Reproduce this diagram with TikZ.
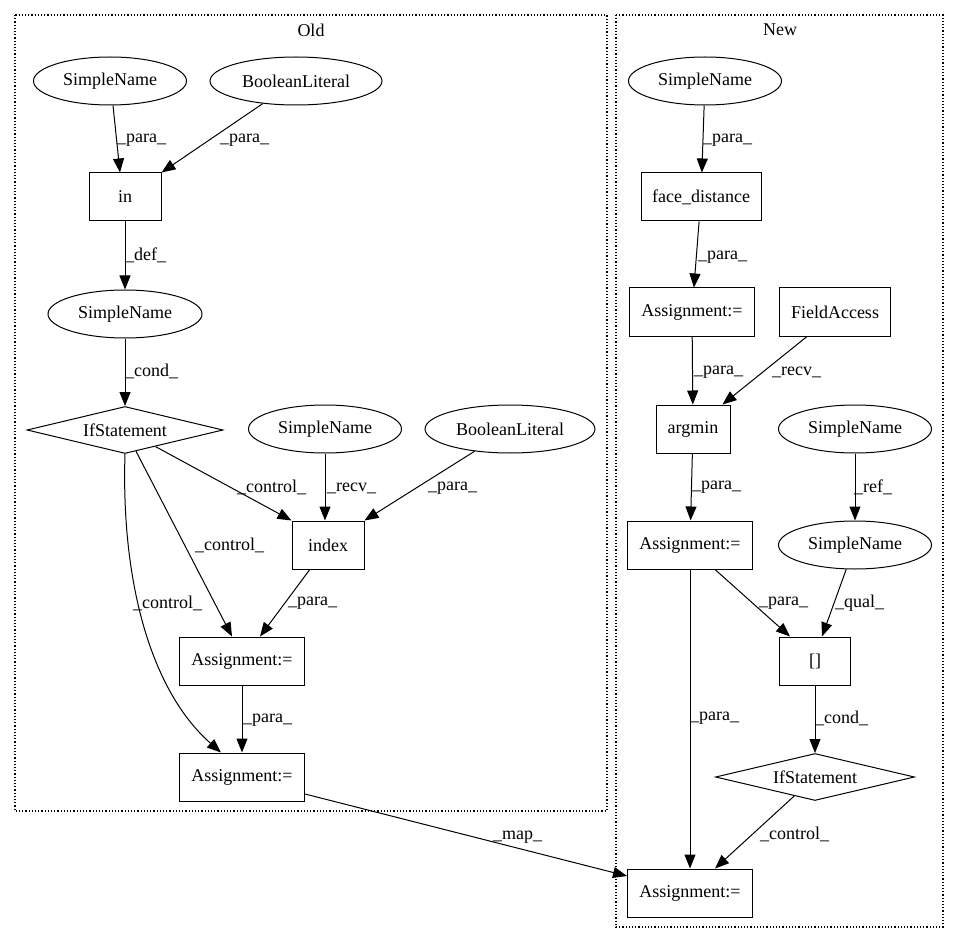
\documentclass[tikz,border=0pt]{standalone}
\usepackage{fontspec}
\setmainfont{Liberation Serif}
\usetikzlibrary{arrows.meta,shapes.geometric}
\begin{document}
\begin{tikzpicture}[x=1pt,y=-1pt,
  every node/.style={font=\fontsize{18}{20}\selectfont},
  ell/.style={draw,ellipse,minimum height=48pt,inner sep=0pt,line width=1pt},
  box/.style={draw,rectangle,minimum height=48pt,inner sep=0pt,line width=1pt},
  dia/.style={draw,diamond,aspect=4.2,minimum height=47pt,inner sep=0pt,line width=1pt},
  lab/.style={inner sep=0pt,anchor=west},
  arr/.style={line width=1pt,-{Triangle[length=14pt,width=11pt]}},
  clus/.style={draw,dotted,line width=1.2pt}]
\useasboundingbox (0,0) rectangle (959,944);
\draw[clus] (15,15) rectangle (607,811);
\node at (311,30) {Old};
\draw[clus] (616,15) rectangle (943,927);
\node at (780,30) {New};
% Old
\node[ell,minimum width=153pt] (o1) at (110,81) {SimpleName};
\node[ell,minimum width=172pt] (o2) at (296,81) {BooleanLiteral};
\node[box,minimum width=72pt] (oin) at (125,197) {in};
\node[ell,minimum width=154pt] (o3) at (125,314) {SimpleName};
\node[dia,minimum width=196pt] (oif) at (125,430) {IfStatement};
\node[ell,minimum width=153pt] (o4) at (325,429) {SimpleName};
\node[ell,minimum width=170pt] (o5) at (510,429) {BooleanLiteral};
\node[box,minimum width=72pt] (oidx) at (328,545) {index};
\node[box,minimum width=125pt] (oa1) at (242,661) {Assignment:=};
\node[box,minimum width=125pt] (oa2) at (242,777) {Assignment:=};
% New
\node[ell,minimum width=153pt] (n1) at (705,81) {SimpleName};
\node[box,minimum width=120pt] (nfd) at (701,197) {face\_distance};
\node[box,minimum width=125pt] (na1) at (692,312) {Assignment:=};
\node[box,minimum width=111pt] (nfa) at (835,312) {FieldAccess};
\node[box,minimum width=74pt] (narg) at (693,429) {argmin};
\node[ell,minimum width=153pt] (n2) at (855,429) {SimpleName};
\node[box,minimum width=125pt] (na2) at (690,545) {Assignment:=};
\node[ell,minimum width=153pt] (n3) at (855,545) {SimpleName};
\node[box,minimum width=71pt] (nb) at (815,661) {[]};
\node[dia,minimum width=199pt] (nif) at (815,777) {IfStatement};
\node[box,minimum width=125pt] (na3) at (690,893) {Assignment:=};
% Old edges
\draw[arr] ([xshift=3pt]o1.south) -- ([xshift=-5pt]oin.north);
\node[lab] at (117,140) {\_para\_};
\draw[arr] (o2) -- (oin.north east);
\node[lab] at (220,140) {\_para\_};
\draw[arr] (oin) -- (o3);
\node[lab] at (125,255) {\_def\_};
\draw[arr] (o3) -- (oif);
\node[lab] at (125,371) {\_cond\_};
\draw[arr] (oif) -- (oidx.north west);
\node[lab] at (237,487) {\_control\_};
\draw[arr] (o4.south) -- (o4.south |- oidx.north);
\node[lab] at (327,488) {\_recv\_};
\draw[arr] (o5) -- (oidx.north east);
\node[lab] at (428,488) {\_para\_};
\draw[arr] (oif) -- ([xshift=-10pt]oa1.north);
\node[lab] at (195,545) {\_control\_};
\draw[arr] (oidx) -- ([xshift=18pt]oa1.north);
\node[lab] at (288,603) {\_para\_};
\draw[arr] (oif.south) .. controls (121,580) and (150,690) .. ([xshift=-21pt]oa2.north);
\node[lab] at (133,603) {\_control\_};
\draw[arr] (oa1) -- (oa2);
\node[lab] at (243,720) {\_para\_};
\draw[arr] ([yshift=-17pt]oa2.east) -- ([yshift=17pt]na3.west);
\node[lab] at (493,837) {\_map\_};
% New edges
\draw[arr] (n1) -- (nfd);
\node[lab] at (703,140) {\_para\_};
\draw[arr] (nfd) -- (na1);
\node[lab] at (698,257) {\_para\_};
\draw[arr] (na1) -- (narg);
\node[lab] at (694,372) {\_para\_};
\draw[arr] ([xshift=-28pt]nfa.south) -- ([xshift=-8pt]narg.north east);
\node[lab] at (772,372) {\_recv\_};
\draw[arr] (narg) -- (na2);
\node[lab] at (692,487) {\_para\_};
\draw[arr] (n2) -- (n3);
\node[lab] at (854,487) {\_ref\_};
\draw[arr] ([xshift=25pt]na2.south) -- ([xshift=11pt]nb.north west);
\node[lab] at (759,603) {\_para\_};
\draw[arr] (n3) -- ([xshift=7pt]nb.north);
\node[lab] at (835,603) {\_qual\_};
\draw[arr] (nb) -- (nif);
\node[lab] at (815,718) {\_cond\_};
\draw[arr] (nif) -- ([xshift=25pt]na3.north);
\node[lab] at (760,834) {\_control\_};
\draw[arr] (na2) -- (na3);
\node[lab] at (690,718) {\_para\_};
\end{tikzpicture}
\end{document}
